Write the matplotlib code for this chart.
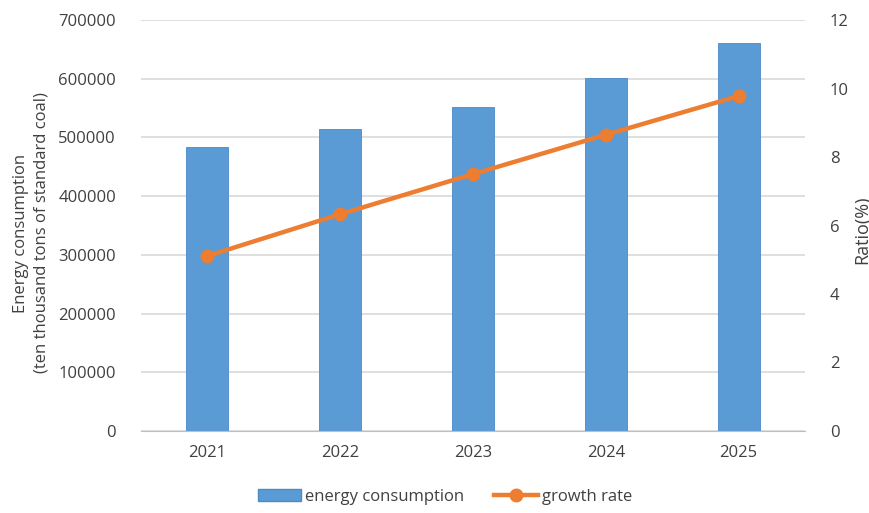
import matplotlib
matplotlib.use("Agg")
import matplotlib.pyplot as plt
from matplotlib.lines import Line2D
from matplotlib.patches import Patch

years = ["2021", "2022", "2023", "2024", "2025"]
energy = [484000, 514500, 552000, 601000, 660000]
growth = [5.11, 6.33, 7.50, 8.65, 9.78]
left_ticks = [0, 100000, 200000, 300000, 400000, 500000, 600000, 700000]
right_ticks = [0, 2, 4, 6, 8, 10, 12]

plt.rcParams['font.family'] = ['Open Sans', 'DejaVu Sans']
bar_color = '#5B9BD5'
line_color = '#ED7D31'
text_color = '#404040'

fig = plt.figure(figsize=(8.7, 5.13), dpi=100)
ax = fig.add_axes([141/870, 1 - 431/513, (805 - 141)/870, (431 - 20)/513])
x = list(range(len(years)))
ax.bar(x, energy, width=0.315, color=bar_color, edgecolor='#4A8AC8', linewidth=0.6, zorder=2)
ax.set_xlim(-0.5, len(years) - 0.5)
ax.set_ylim(0, 700000)
ax.set_yticks(left_ticks)
ax.set_yticklabels([str(v) for v in left_ticks])
ax.set_xticks(x)
ax.set_xticklabels(years)
ax.grid(axis='y', color='#D9D9D9', linewidth=1.2, zorder=0)
ax.set_axisbelow(True)
for s in ['top', 'right', 'left']:
    ax.spines[s].set_visible(False)
ax.spines['bottom'].set_color('#BFBFBF')
ax.tick_params(axis='both', length=0, labelsize=12, colors=text_color)
ax.tick_params(axis='y', pad=18)
ax.tick_params(axis='x', pad=10)
fig.text(31/870, 1 - 233/513, "Energy consumption\n(ten thousand tons of standard coal)",
         rotation=90, fontsize=12, color=text_color, ha='center', va='center',
         multialignment='center', linespacing=1.4)

ax2 = ax.twinx()
ax2.plot(x, growth, color=line_color, linewidth=3.2, marker='o', markersize=9, zorder=3)
ax2.set_ylim(0, 12)
ax2.set_yticks(right_ticks)
ax2.set_yticklabels([str(v) for v in right_ticks])
for s in ['top', 'right', 'left', 'bottom']:
    ax2.spines[s].set_visible(False)
ax2.tick_params(axis='y', length=0, labelsize=12, colors=text_color, pad=18)
fig.text(862/870, 1 - 230/513, "Ratio(%)", rotation=90, fontsize=13, color=text_color,
         ha='center', va='center')

handles = [Patch(facecolor=bar_color, edgecolor='#4A8AC8', label='energy consumption'),
           Line2D([0], [0], color=line_color, linewidth=3.2, marker='o', markersize=9,
                  label='growth rate')]
fig.legend(handles=handles, loc='center', bbox_to_anchor=(445/870, 1 - 497/513), ncol=2,
           frameon=False, fontsize=12, handlelength=2.6, columnspacing=1.8,
           handletextpad=0.25, labelcolor=text_color)

fig.savefig("out.png", dpi=100, facecolor='white')
